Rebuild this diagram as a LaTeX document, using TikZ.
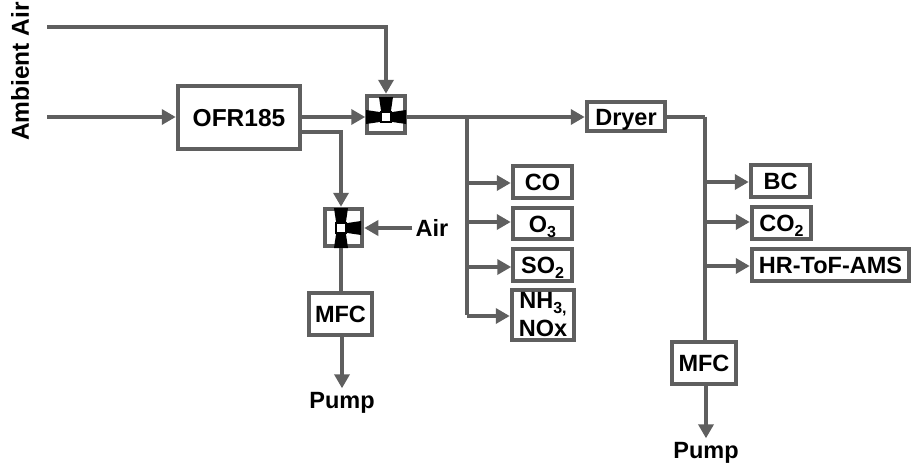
\documentclass[tikz,border=0pt]{standalone}
\usepackage{fontspec}
\setmainfont{Liberation Sans}
\usetikzlibrary{arrows.meta}
\newcommand{\chemsub}[1]{\raisebox{-5pt}{\fontsize{16}{16}\selectfont #1}}

\begin{document}
\begin{tikzpicture}[
    x=1pt, y=-1pt,
    box/.style={draw=linegray, line width=4pt, inner sep=0pt, fill=white, align=center, font=\fontsize{23.5}{25}\selectfont\bfseries},
    capbox/.style={box, text height=17pt, text depth=0pt},
    label/.style={inner sep=0pt, font=\fontsize{23.5}{25}\selectfont\bfseries},
    valve/.style={draw=linegray, line width=4pt, minimum size=37.5pt, inner sep=0pt, fill=white},
    core/.style={draw=black, line width=2.5pt, fill=white, minimum size=10pt, inner sep=0pt},
    flow/.style={draw=linegray, line width=4pt, -{Triangle[length=14pt,width=15pt]}},
    pipe/.style={draw=linegray, line width=4pt}
]
    \definecolor{linegray}{HTML}{5F5F5F}
    \useasboundingbox (0,0) rectangle (911,463);

    % Inlets
    \coordinate (inTop) at (47,27);
    \coordinate (inLow) at (47,117);
    \node [label, rotate=90, font=\fontsize{24.5}{25}\selectfont\bfseries] (ambient) at (20,71.5) {Ambient Air};

    % Boxes
    \node [capbox, minimum width=122.5pt, minimum height=63.5pt, font=\fontsize{24.5}{25}\selectfont\bfseries] (ofr) at (239,117.5) {OFR185};
    \node [capbox, minimum width=78.5pt, minimum height=29.5pt] (dryer) at (626,116.5) {Dryer};
    \node [capbox, minimum width=63.5pt, minimum height=42.5pt] (mfcA) at (340.5,314) {MFC};
    \node [capbox, minimum width=64.5pt, minimum height=42.5pt] (mfcB) at (704,363) {MFC};

    % Valves
    \node [valve] (valveA) at (386,114.5) {};
    \node [valve] (valveB) at (343.5,227.5) {};
    \foreach \r in {90,0,180} {
        \fill [black, shift={(386,117)}, rotate=\r] (3,-4.5) -- (20,-7) -- (20,7) -- (3,4.5) -- cycle;
    }
    \foreach \r in {90,0,270} {
        \fill [black, shift={(341,228)}, rotate=\r] (3,-4.5) -- (20,-7) -- (20,7) -- (3,4.5) -- cycle;
    }
    \node [core] (coreA) at (386,117) {};
    \node [core] (coreB) at (341,228) {};

    % Left column
    \foreach \name/\ypos/\hgt/\wid/\txt in {co/182/32.5/59.5/CO, ozone/223.5/31.5/59.5/O\chemsub{3}, so/265/32.5/58.5/SO\chemsub{2}} {
        \node [capbox, minimum width=\wid pt, minimum height=\hgt pt] (\name) at (542.5,\ypos) {\txt};
    }
    \node [box, minimum width=62.5pt, minimum height=50.5pt] (nh) at (543,315) {NH\chemsub{3,}\\[3pt]NOx};

    % Right column
    \node [capbox, minimum width=59.5pt, minimum height=32.5pt] (bc) at (780.5,181) {BC};
    \node [capbox, minimum width=59.5pt, minimum height=32.5pt] (cotwo) at (781.5,223) {CO\chemsub{2}};
    \node [capbox, minimum width=157.5pt, minimum height=32.5pt] (ams) at (830.5,265) {HR-ToF-AMS};

    \node [label] (air) at (432,228) {Air};
    \node [label] (pumpA) at (342,403) {Pump};
    \node [label] (pumpB) at (706,453) {Pump};

    \coordinate (splitA) at (467,117);
    \coordinate (splitB) at (705,116.5);

    % Connectors
    \draw [flow] (inTop) -| (valveA.north);
    \draw [flow] (inLow) -- (inLow -| ofr.west);
    \draw [flow] (ofr.east |- coreA) -- (valveA.west |- coreA);
    \draw [flow] ([yshift=-14pt]ofr.east) -| (valveB.north -| coreB);
    \draw [flow] (air.west) ++(-3,0) -- (valveB.east |- coreB);
    \draw [pipe] (coreB |- valveB.south) -- (coreB |- mfcA.north);
    \draw [flow] (mfcA.south -| pumpA) -- ([yshift=4pt]pumpA.north);
    \draw [flow] (valveA.east |- coreA) -- (dryer.west |- coreA);
    \draw [pipe] (splitA) -- (splitA |- nh);
    \foreach \name/\ypos in {co/183, ozone/222, so/267, nh/316} {
        \draw [flow] (467,\ypos) -- (\name.west |- 0,\ypos);
    }
    \draw [pipe] (dryer.east) -- (splitB);
    \draw [pipe] (splitB) -- (mfcB.north -| splitB);
    \foreach \name/\ypos in {bc/182, cotwo/222, ams/266} {
        \draw [flow] (705,\ypos) -- (\name.west |- 0,\ypos);
    }
    \draw [flow] (mfcB.south -| pumpB) -- ([yshift=4pt]pumpB.north);
\end{tikzpicture}
\end{document}
